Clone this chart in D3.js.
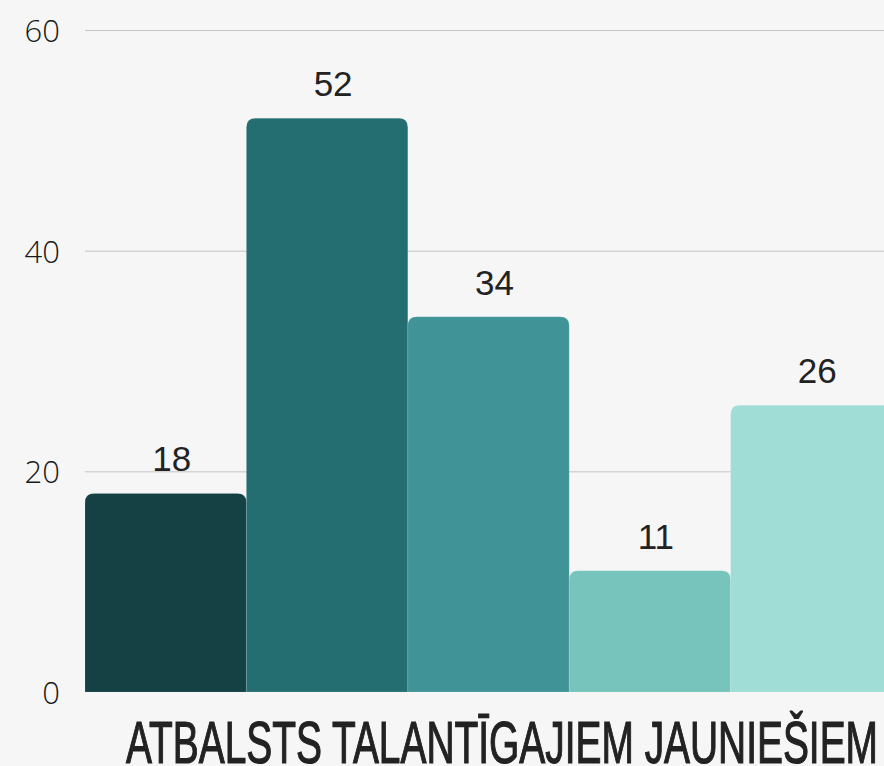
<!DOCTYPE html>
<html lang="lv">
<head>
<meta charset="UTF-8">
<script src="https://d3js.org/d3.v7.min.js"></script>
<title>Atbalsts talantīgajiem jauniešiem</title>
<style>
  html, body { margin: 0; padding: 0; background: #f6f6f6; }
  svg { display: block; }
</style>
</head>
<body>
<script>
  // data
  var categories = ["A", "B", "C", "D", "E"];
  var values = [18, 52, 34, 11, 26];
  var barColors = ["#154044", "#246e72", "#409498", "#76c4bb", "#a0ddd6"];
  var yTicks = [0, 20, 40, 60];
  var title = "ATBALSTS TALANTĪGAJIEM JAUNIEŠIEM";

  var width = 884, height = 766;
  var plotLeft = 85, plotTop = 30, plotBottom = 692;

  var svg = d3.select("body").append("svg")
      .attr("width", width)
      .attr("height", height);

  svg.append("rect").attr("width", width).attr("height", height).attr("fill", "#f6f6f6");

  var x = d3.scaleBand()
      .domain(categories)
      .range([plotLeft, 892])
      .paddingInner(0);

  var y = d3.scaleLinear()
      .domain([0, 60])
      .range([plotBottom, plotTop]);

  // grid lines
  svg.append("g").selectAll("line")
      .data(yTicks.filter(function (d) { return d > 0; }))
      .enter().append("line")
      .attr("x1", plotLeft)
      .attr("x2", width)
      .attr("y1", function (d) { return y(d) + 0.5; })
      .attr("y2", function (d) { return y(d) + 0.5; })
      .attr("stroke", "#c4c4c4")
      .attr("stroke-width", 1);

  // y tick labels
  svg.append("g").selectAll("text")
      .data(yTicks)
      .enter().append("text")
      .attr("x", 60)
      .attr("y", function (d) { return y(d) + 12; })
      .attr("text-anchor", "end")
      .attr("font-family", "'Open Sans', 'Noto Sans', sans-serif")
      .attr("font-weight", 300)
      .attr("font-size", 31)
      .attr("fill", "#1a1a1a")
      .text(function (d) { return d; });

  // bars with rounded tops
  var r = 9;
  function barPath(d, i) {
    var x0 = x(categories[i]), x1 = x0 + x.bandwidth();
    var y0 = y(d), yb = y(0);
    return "M" + x0 + "," + yb +
      "V" + (y0 + r) +
      "Q" + x0 + "," + y0 + " " + (x0 + r) + "," + y0 +
      "H" + (x1 - r) +
      "Q" + x1 + "," + y0 + " " + x1 + "," + (y0 + r) +
      "V" + yb + "Z";
  }

  svg.append("g").selectAll("path")
      .data(values)
      .enter().append("path")
      .attr("d", barPath)
      .attr("fill", function (d, i) { return barColors[i]; })
      .attr("stroke", "rgba(255,255,255,0.2)")
      .attr("stroke-width", 0.6);

  // value labels
  svg.append("g").selectAll("text")
      .data(values)
      .enter().append("text")
      .attr("x", function (d, i) { return x(categories[i]) + x.bandwidth() / 2 + 6; })
      .attr("y", function (d) { return y(d) - 22; })
      .attr("text-anchor", "middle")
      .attr("font-family", "'Liberation Sans', Arial, sans-serif")
      .attr("font-size", 35)
      .attr("fill", "#222")
      .text(function (d) { return d; });

  // title (condensed look by squeezing glyphs)
  svg.append("text")
      .attr("x", 126)
      .attr("y", 763)
      .attr("font-family", "'Liberation Sans', Arial, sans-serif")
      .attr("font-size", 60)
      .attr("textLength", 752)
      .attr("lengthAdjust", "spacingAndGlyphs")
      .attr("fill", "#222")
      .attr("stroke", "#222")
      .attr("stroke-width", 1.2)
      .text(title);
</script>
</body>
</html>
